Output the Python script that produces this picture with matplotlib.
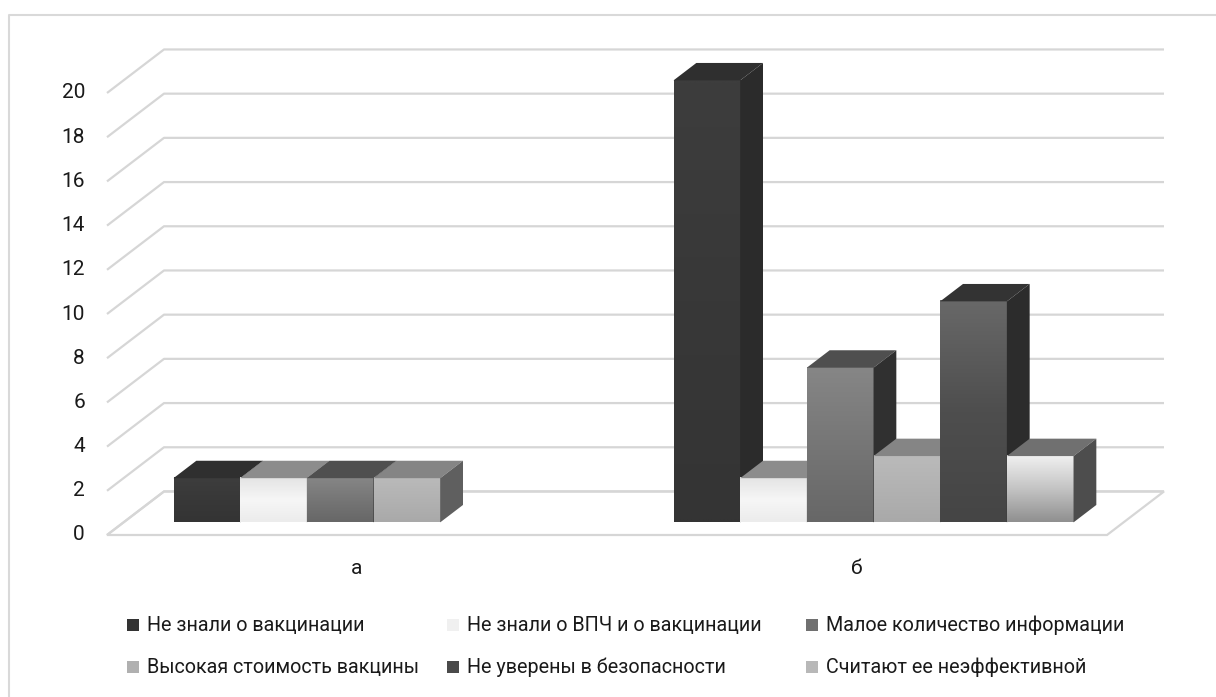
import numpy as np
import matplotlib
matplotlib.use("Agg")
import matplotlib.pyplot as plt
from matplotlib.patches import Polygon, Rectangle
from matplotlib.lines import Line2D
from matplotlib.colors import to_rgb

# data
categories = ["а", "б"]
series_names = [
    "Не знали о вакцинации",
    "Не знали о ВПЧ и о вакцинации",
    "Малое количество информации",
    "Высокая стоимость вакцины",
    "Не уверены в безопасности",
    "Считают ее неэффективной",
]
values_a = [2, 2, 2, 2, 0, 0]
values_b = [20, 2, 7, 3, 10, 3]
yticks = [0, 2, 4, 6, 8, 10, 12, 14, 16, 18, 20]

# shading per series: front gradient (top, mid, bottom), top face, side face
front_cols = [
    ("#3d3d3d", "#383838", "#343434"),
    ("#e4e4e4", "#f6f6f6", "#ececec"),
    ("#868686", "#767676", "#676767"),
    ("#bababa", "#b2b2b2", "#a9a9a9"),
    ("#686868", "#4e4e4e", "#454545"),
    ("#f0f0f0", "#c4c4c4", "#909090"),
]
top_cols = ["#2f2f2f", "#8c8c8c", "#4f4f4f", "#858585", "#333333", "#707070"]
side_cols = ["#2b2b2b", "#6e6e6e", "#303030", "#5f5f5f", "#2c2c2c", "#4d4d4d"]
legend_cols = ["#333333", "#f0f0f0", "#707070", "#b0b0b0", "#4a4a4a", "#b8b8b8"]

FONT = "Roboto"
FS = 15
LEG_FS = 14.2
GRID = "#d6d6d6"

W, H = 1216, 697
fig = plt.figure(figsize=(W / 100, H / 100), dpi=100)
fig.patch.set_facecolor("white")

# outer chart frame (top and left edges visible)
fig.add_artist(Line2D([9 / W, 9 / W, 1.0], [0.0, 1 - 15 / H, 1 - 15 / H],
                      transform=fig.transFigure, color="#d9d9d9", lw=1.5))

# front plane: x 0..2 categories, y 0..20 values
ax = fig.add_axes([107 / W, 162 / H, 1000 / W, 442 / H])
ax.set_xlim(0, 2)
ax.set_ylim(0, 20)
ax.axis("off")

DX, DY = 0.114, 1.97          # full depth of the floor in data units
f0, f1 = 0.29, 0.69           # depth span of the bars
n = len(series_names)
bw = 0.8 / n

# back wall gridlines with diagonal ticks to the front
for v in yticks:
    ax.plot([0, DX, 2 + DX], [v, v + DY, v + DY], color=GRID, lw=1.6,
            clip_on=False, zorder=1, solid_capstyle="butt")
    ax.text(-0.044, v, str(v), ha="right", va="center", fontsize=FS,
            family=FONT, color="#1a1a1a")
# floor outline
ax.add_patch(Polygon([(0, 0), (2, 0), (2 + DX, DY), (DX, DY)], closed=True,
                     fill=False, ec=GRID, lw=1.6, clip_on=False, zorder=1))


def gradient(cols, steps=64):
    c = np.array([to_rgb(x) for x in cols])
    t = np.linspace(0, 1, steps)
    k = np.linspace(0, 1, len(cols))
    img = np.stack([np.interp(t, k, c[:, j]) for j in range(3)], axis=-1)
    return img[:, None, :]


z = 2.0
for ci, vals in enumerate([values_a, values_b]):
    for i, v in enumerate(vals):
        if v <= 0:
            continue
        x0 = ci + 0.1 + i * bw
        xl, xr = x0 + f0 * DX, x0 + bw + f0 * DX
        yb, yt = f0 * DY, v + f0 * DY
        bx, by = (f1 - f0) * DX, (f1 - f0) * DY
        ax.imshow(gradient(front_cols[i]), extent=(xl, xr, yb, yt),
                  aspect="auto", origin="upper", zorder=z, clip_on=False,
                  interpolation="bilinear")
        ax.add_patch(Polygon([(xl, yt), (xr, yt), (xr + bx, yt + by), (xl + bx, yt + by)],
                             closed=True, fc=top_cols[i], ec="none",
                             clip_on=False, zorder=z + 0.01))
        ax.add_patch(Polygon([(xr, yb), (xr + bx, yb + by), (xr + bx, yt + by), (xr, yt)],
                             closed=True, fc=side_cols[i], ec="none",
                             clip_on=False, zorder=z + 0.01))
        z += 0.1

ax.set_xlim(0, 2)
ax.set_ylim(0, 20)

for ci, name in enumerate(categories):
    ax.text(ci + 0.5, -1.5, name, ha="center", va="center", fontsize=FS,
            family=FONT, color="#1a1a1a")

# legend, two rows of three
leg_x = [127, 447, 806]
leg_y = [625, 667]
for k, name in enumerate(series_names):
    r, c = divmod(k, 3)
    x, y = leg_x[c], leg_y[r]
    fig.add_artist(Rectangle(((x) / W, 1 - (y + 6) / H), 12 / W, 12 / H,
                             transform=fig.transFigure, fc=legend_cols[k], ec="none"))
    fig.text((x + 20) / W, 1 - y / H, name, ha="left", va="center",
             fontsize=LEG_FS, family=FONT, color="#1a1a1a")

fig.savefig("out.png", dpi=100, facecolor="white")
